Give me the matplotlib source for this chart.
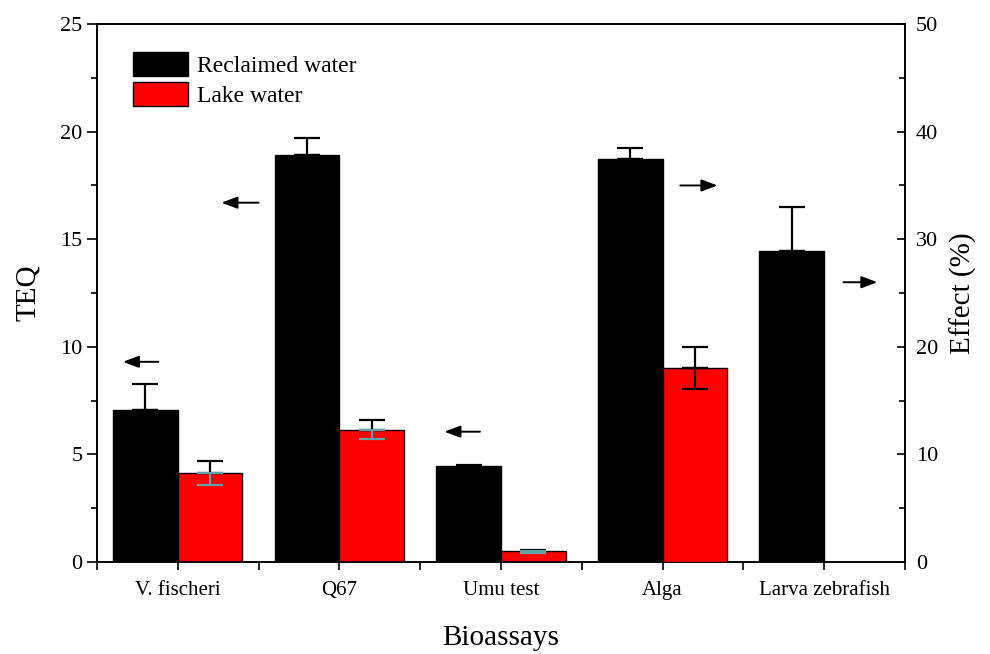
import numpy as np
from matplotlib import pyplot as plt
from matplotlib.ticker import MultipleLocator, FixedLocator

plt.rcParams['font.family'] = ['Liberation Serif', 'DejaVu Serif']

assays = ["V. fischeri", "Q67", "Umu test", "Alga", "Larva zebrafish"]
# first three on TEQ axis (left), last two on Effect (%) axis (right)
reclaimed_teq = [7.05, 18.9, 4.47]
reclaimed_teq_err = [1.2, 0.8, 0.03]
lake_teq = [4.12, 6.15, 0.48]
lake_teq_err = [0.55, 0.45, 0.05]
reclaimed_eff = [37.5, 28.9]
reclaimed_eff_err = [0.95, 4.1]
lake_eff = [18.0]
lake_eff_err = [1.95]

w = 0.4
x = np.arange(1, len(assays) + 1)

fig = plt.figure(figsize=(9.9, 6.54), dpi=100)
ax = fig.add_axes([0.098, 0.141, 0.816, 0.822])
ax2 = ax.twinx()

cap = 9.5
lw = 1.6

def errs(a, xs, ys, es, low_color):
    a.errorbar(xs, ys, yerr=[np.zeros(len(es)), es], fmt='none', ecolor='black',
               elinewidth=lw, capsize=cap, capthick=lw, zorder=4)
    a.errorbar(xs, ys, yerr=[es, np.zeros(len(es))], fmt='none', ecolor=low_color,
               elinewidth=lw, capsize=cap, capthick=lw, zorder=4)

# left axis
xl = x[:3]
ax.bar(xl - w / 2, reclaimed_teq, w, color='black', edgecolor='black', linewidth=1,
       label="Reclaimed water", zorder=3)
ax.bar(xl + w / 2, lake_teq, w, color='#ff0000', edgecolor='black', linewidth=1,
       label="Lake water", zorder=3)
errs(ax, xl - w / 2, reclaimed_teq, reclaimed_teq_err, 'black')
errs(ax, xl + w / 2, lake_teq, lake_teq_err, '#5fa3a8')

# right axis
xr = x[3:]
ax2.bar(xr - w / 2, reclaimed_eff, w, color='black', edgecolor='black', linewidth=1, zorder=3)
ax2.bar(xr[:1] + w / 2, lake_eff, w, color='#ff0000', edgecolor='black', linewidth=1, zorder=3)
errs(ax2, xr - w / 2, reclaimed_eff, reclaimed_eff_err, 'black')
errs(ax2, xr[:1] + w / 2, lake_eff, lake_eff_err, 'black')

ax.set_xlim(0.5, 5.5)
ax.set_ylim(0, 25)
ax2.set_ylim(0, 50)

ax.set_xticks(x)
ax.set_xticklabels(assays, fontsize=15)
ax.xaxis.set_minor_locator(FixedLocator(np.arange(0.5, 6, 1.0)))
ax.yaxis.set_major_locator(MultipleLocator(5))
ax.yaxis.set_minor_locator(MultipleLocator(2.5))
ax2.yaxis.set_major_locator(MultipleLocator(10))
ax2.yaxis.set_minor_locator(MultipleLocator(5))

ax.tick_params(axis='y', which='major', direction='out', length=7, width=1.2, labelsize=16)
ax.tick_params(axis='y', which='minor', direction='out', length=4, width=1.2)
ax.tick_params(axis='x', which='major', direction='out', length=6, width=1.2, pad=8)
ax.tick_params(axis='x', which='minor', direction='out', length=6, width=1.2)
ax2.tick_params(axis='y', which='major', direction='in', length=6, width=1.2, labelsize=16, pad=8)
ax2.tick_params(axis='y', which='minor', direction='in', length=4, width=1.2)
for a in (ax, ax2):
    for s in a.spines.values():
        s.set_linewidth(1.2)

ax.set_ylabel("TEQ", fontsize=21, labelpad=14)
ax2.set_ylabel("Effect (%)", fontsize=21, labelpad=8)
ax.set_xlabel("Bioassays", fontsize=21, labelpad=18)

ax.legend(loc='upper left', bbox_to_anchor=(0.018, 0.987), frameon=False, fontsize=17,
          handlelength=2.33, handleheight=1.15, labelspacing=0.22, handletextpad=0.38)

arrow = dict(arrowstyle='-|>,head_length=0.8,head_width=0.3', color='black', lw=1.4,
             mutation_scale=12, shrinkA=0, shrinkB=0)
ax.annotate("", xy=(0.66, 9.3), xytext=(0.88, 9.3), arrowprops=arrow)
ax.annotate("", xy=(1.27, 16.7), xytext=(1.5, 16.7), arrowprops=arrow)
ax.annotate("", xy=(2.65, 6.05), xytext=(2.87, 6.05), arrowprops=arrow)
ax.annotate("", xy=(4.34, 17.5), xytext=(4.11, 17.5), arrowprops=arrow)
ax.annotate("", xy=(5.33, 13.0), xytext=(5.12, 13.0), arrowprops=arrow)

plt.savefig("out.png", dpi=100)
